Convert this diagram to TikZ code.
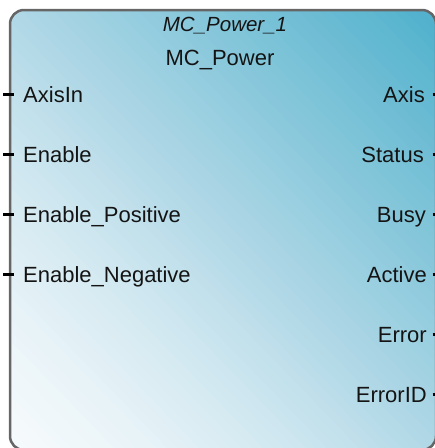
\documentclass[tikz,border=0pt]{standalone}
\usepackage{fontspec}
\setmainfont{Liberation Sans}
\definecolor{fbdark}{HTML}{4FB0CC}
\definecolor{fbmid}{HTML}{B0D8E6}
\definecolor{fblight}{HTML}{F6FAFC}
\definecolor{fbborder}{HTML}{666666}
\begin{document}
\begin{tikzpicture}[x=1pt,y=-1pt,
  lbl/.style={inner sep=0pt, font=\fontsize{22}{26}\selectfont, text=black!92},
  inlbl/.style={lbl, anchor=base west},
  outlbl/.style={lbl, anchor=base east},
  pinstub/.style={line width=3pt, black},
  fbbox/.style={rounded corners=14pt, draw=fbborder, line width=2.5pt},
]
\useasboundingbox (0,0) rectangle (435,448);
\begin{scope}
\clip (0,0) rectangle (435,448);
\begin{scope}
\clip[rounded corners=14pt] (10,10) rectangle (436,450);
\foreach \k in {0,...,79}{
  \pgfmathsetmacro\ta{\k/80}
  \pgfmathsetmacro\tb{(\k+1.4)/80}
  \pgfmathsetmacro\tm{(\k+0.5)/80}
  \pgfmathsetmacro\mixA{100*(min(1,2*\tm))^1.4}
  \pgfmathsetmacro\mixB{max(0,200*\tm-100)}
  \fill[fbdark!\mixB!fbmid!\mixA!fblight]
    ({10+852*\ta},450) -- ({10+852*\tb},450) -- (10,{450-880*\tb}) -- (10,{450-880*\ta}) -- cycle;
}
\end{scope}
\draw[fbbox] (10,10) rectangle (436,450);
\end{scope}
% titles
\node[lbl, anchor=base, font=\fontsize{20.5}{25}\selectfont\itshape] (inst) at (225,31) {MC\_Power\_1};
\node[lbl, anchor=base] (type) at (220,65) {MC\_Power};
% inputs
\node[inlbl] (axisin) at (23,102.5) {AxisIn};
\node[inlbl] (enable) at (23,162.4) {Enable};
\node[inlbl] (enpos) at (23,222.3) {Enable\_Positive};
\node[inlbl] (enneg) at (23,282.2) {Enable\_Negative};
% outputs
\node[outlbl] (axis) at (425,102.5) {Axis};
\node[outlbl] (status) at (424,162.4) {Status};
\node[outlbl] (busy) at (426,222.3) {Busy};
\node[outlbl] (active) at (427,282.2) {Active};
\node[outlbl] (error) at (427,342.1) {Error};
\node[outlbl] (errorid) at (427,402) {ErrorID};
% input pins
\coordinate (pa) at (3,94); \coordinate (pa2) at (14,94);
\coordinate (pb) at (3,154); \coordinate (pb2) at (14,154);
\coordinate (pc) at (3,214); \coordinate (pc2) at (14,214);
\coordinate (pd) at (3,274); \coordinate (pd2) at (14,274);
\draw[pinstub] (pa) -- (pa2);
\draw[pinstub] (pb) -- (pb2);
\draw[pinstub] (pc) -- (pc2);
\draw[pinstub] (pd) -- (pd2);
% output pins
\coordinate (qa) at (432.5,94); \coordinate (qa2) at (436,94);
\coordinate (qb) at (432.5,154); \coordinate (qb2) at (436,154);
\coordinate (qc) at (432.5,214); \coordinate (qc2) at (436,214);
\coordinate (qd) at (432.5,274); \coordinate (qd2) at (436,274);
\coordinate (qe) at (432.5,334); \coordinate (qe2) at (436,334);
\coordinate (qf) at (432.5,394); \coordinate (qf2) at (436,394);
\draw[pinstub] (qa) -- (qa2);
\draw[pinstub] (qb) -- (qb2);
\draw[pinstub] (qc) -- (qc2);
\draw[pinstub] (qd) -- (qd2);
\draw[pinstub] (qe) -- (qe2);
\draw[pinstub] (qf) -- (qf2);
\end{tikzpicture}
\end{document}
